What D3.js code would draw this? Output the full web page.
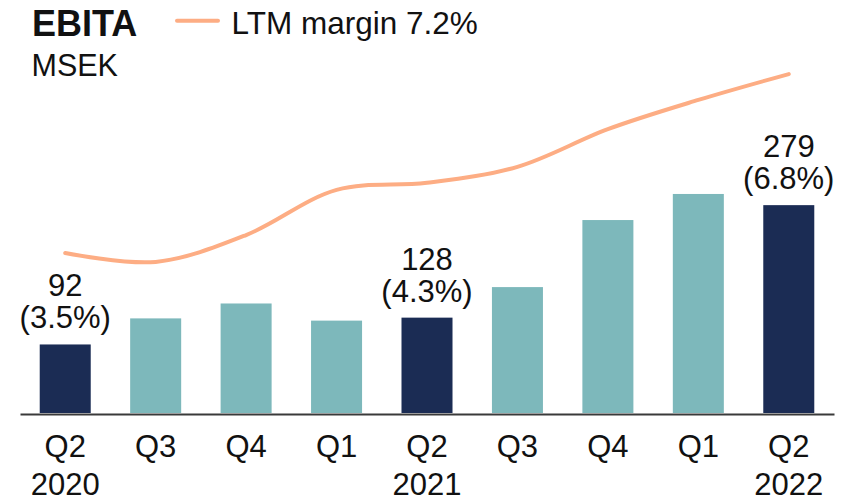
<!DOCTYPE html>
<html>
<head>
<meta charset="utf-8">
<script src="https://cdn.jsdelivr.net/npm/d3@7"></script>
<style>
  html, body { margin: 0; padding: 0; background: #ffffff; }
  svg { display: block; font-family: "Liberation Sans", Arial, sans-serif; }
</style>
</head>
<body>
<svg id="chart" width="856" height="498"></svg>
<script>
// ---- data ----
const periods   = ["Q2 2020","Q3 2020","Q4 2020","Q1 2021","Q2 2021","Q3 2021","Q4 2021","Q1 2022","Q2 2022"];
const quarters  = ["Q2","Q3","Q4","Q1","Q2","Q3","Q4","Q1","Q2"];
const years     = ["2020","","","","2021","","","","2022"];
const ebita     = [92, 127, 147, 124, 128, 169, 259, 294, 279];
const ltmMargin = [3.40, 3.21, 3.78, 4.74, 4.89, 5.23, 6.03, 6.65, 7.20];
const highlight = [true, false, false, false, true, false, false, false, true];
const marginLabels = ["(3.5%)", "", "", "", "(4.3%)", "", "", "", "(6.8%)"];
const title = "EBITA";
const unit = "MSEK";
const legendLabel = "LTM margin 7.2%";

// ---- styles ----
const navy = "#1b2c54";
const teal = "#7db8bb";
const orange = "#fdad84";

const svg = d3.select("#chart");

const x = d3.scaleBand().domain(periods).range([20, 834]).paddingInner(0.436).paddingOuter(0.218);
const y = d3.scaleLinear().domain([0, 400]).range([413, 115]);
const y2 = d3.scaleLinear().domain([0, 8]).range([413, 36.4]);

// bars
svg.append("g").selectAll("rect")
  .data(periods)
  .join("rect")
  .attr("x", d => x(d))
  .attr("width", x.bandwidth())
  .attr("y", (d, i) => y(ebita[i]))
  .attr("height", (d, i) => y(0) - y(ebita[i]))
  .attr("fill", (d, i) => highlight[i] ? navy : teal);

// baseline axis
const xAxis = d3.axisBottom(x).tickSize(0).tickFormat("");
const ax = svg.append("g").attr("transform", `translate(0,${y(0) + 1})`).call(xAxis);
ax.select(".domain").attr("stroke", "#3a3a3a").attr("stroke-width", 2);

// axis labels
const labG = svg.append("g").attr("font-size", 31).attr("fill", "#111").attr("text-anchor", "middle");
periods.forEach((p, i) => {
  const cx = x(p) + x.bandwidth() / 2;
  labG.append("text").attr("x", cx).attr("y", 457).text(quarters[i]);
  if (years[i]) labG.append("text").attr("x", cx).attr("y", 495).text(years[i]);
});

// value labels
const valG = svg.append("g").attr("font-size", 31).attr("fill", "#111").attr("text-anchor", "middle");
periods.forEach((p, i) => {
  if (!highlight[i]) return;
  const cx = x(p) + x.bandwidth() / 2;
  const top = y(ebita[i]);
  valG.append("text").attr("x", cx).attr("y", top - 16).text(marginLabels[i]);
  valG.append("text").attr("x", cx).attr("y", top - 48).text(ebita[i]);
});

// LTM margin line
const line = d3.line()
  .x((d, i) => x(periods[i]) + x.bandwidth() / 2)
  .y(d => y2(d))
  .curve(d3.curveCatmullRom.alpha(0.5));
svg.append("path")
  .datum(ltmMargin)
  .attr("d", line)
  .attr("fill", "none")
  .attr("stroke", orange)
  .attr("stroke-width", 4)
  .attr("stroke-linecap", "round");

// title + unit
svg.append("text").attr("x", 32).attr("y", 35.5).attr("font-size", 36).attr("font-weight", "bold").attr("fill", "#111").text(title);
svg.append("text").attr("x", 31.5).attr("y", 76).attr("font-size", 30.5).attr("fill", "#111").text(unit);

// legend
svg.append("line").attr("x1", 177).attr("x2", 218).attr("y1", 20.7).attr("y2", 20.7)
  .attr("stroke", orange).attr("stroke-width", 4).attr("stroke-linecap", "round");
svg.append("text").attr("x", 231.5).attr("y", 34.3).attr("font-size", 31.5).attr("fill", "#111").text(legendLabel);
</script>
</body>
</html>
